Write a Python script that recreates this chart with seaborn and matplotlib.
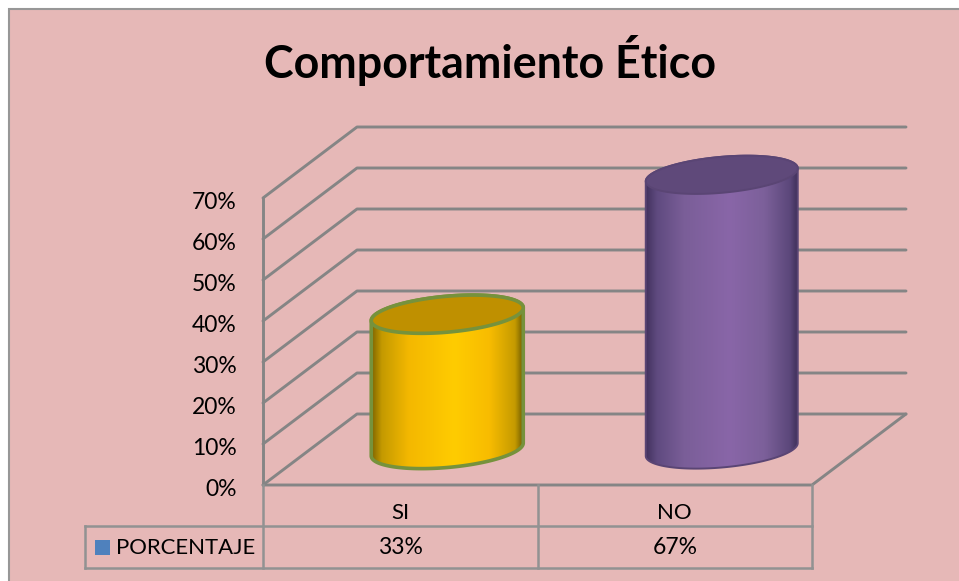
import matplotlib
matplotlib.use("Agg")
import matplotlib.pyplot as plt
import numpy as np
import seaborn as sns
from matplotlib.colors import LinearSegmentedColormap
from matplotlib.patches import PathPatch, Polygon, Rectangle
from matplotlib.path import Path
from matplotlib.transforms import ScaledTranslation

categories = ["SI", "NO"]
percentages = [33, 67]
series_name = "PORCENTAJE"
title_text = "Comportamiento Ético"
y_ticks = [0, 10, 20, 30, 40, 50, 60, 70]

ramp_stops = [0, 0.07, 0.25, 0.55, 0.78, 0.95, 1]
body_ramps = [
    ["#7d6300", "#c49a00", "#f4b800", "#ffcc00", "#f8bc00", "#c49a00", "#766000"],
    ["#43325e", "#5f4a7f", "#7a5e98", "#8966a8", "#7c609a", "#5b477a", "#3f3058"],
]
lid_colors = ["#bf9000", "#5f497a"]
rim_colors = ["#76923c", "#5a4574"]
rim_widths = [2.6, 1.4]

FONT = "Lato"
PINK = "#e6b8b7"
GRID = "#858585"
TABLE = "#929292"
W, H = 959, 581

# Front plane of the 3D box, in pixels: 0-70% spans 287 px, two categories span 549 px.
LEFT, RIGHT, FLOOR, TOP = 263, 812, 485, 198
px_x = 2 / (RIGHT - LEFT)
px_y = 70 / (FLOOR - TOP)
depth_x, depth_y = 94 * px_x, 71 * px_y

sns.set_style("white")
plt.rcParams["font.family"] = [FONT, "DejaVu Sans"]

fig = plt.figure(figsize=(W / 100, H / 100), dpi=100, facecolor="white")
fig.add_artist(Rectangle((9 / W, -0.05), 1.05, 1.05 - 9 / H, transform=fig.transFigure,
                         facecolor=PINK, edgecolor="#979797", linewidth=1.5, zorder=-1))

ax = fig.add_axes([LEFT / W, 1 - FLOOR / H, (RIGHT - LEFT) / W, (FLOOR - TOP) / H])
ax.patch.set_visible(False)
sns.barplot(x=categories, y=percentages, width=152 * px_x, ax=ax)
ax.set_xlim(-0.5, 1.5)
ax.set_ylim(0, 70)
for spine in ax.spines.values():
    spine.set_visible(False)

ax.set_yticks(y_ticks)
ax.set_yticklabels([f"{t}%" for t in y_ticks], fontsize=16.5, color="black")
ax.tick_params(axis="y", length=0, pad=19)
ax.tick_params(axis="x", length=0, pad=13, labelsize=16, labelcolor="black")
nudge = ScaledTranslation(0, -2.5 / 100, fig.dpi_scale_trans)
for lab in ax.get_yticklabels():
    lab.set_verticalalignment("center_baseline")
    lab.set_transform(lab.get_transform() + nudge)

# Walls and floor of the box
line = dict(color=GRID, linewidth=2.1, clip_on=False, zorder=1, solid_capstyle="round")
x0, x1 = ax.get_xlim()
for t in y_ticks:
    ax.plot([x0, x0 + depth_x, x1 + depth_x], [t, t + depth_y, t + depth_y], **line)
ax.plot([x0, x0], [0, 70], **line)
ax.plot([x0, x1, x1 + depth_x], [0, 0, depth_y], **line)

# Cylinders: geometry comes from the bars seaborn laid out, set back to mid depth
tilt = 0.085
t_ = np.linspace(0, 2 * np.pi, 181)
for i, bar in enumerate(list(ax.patches)):
    bar.set_visible(False)
    cx = bar.get_x() + bar.get_width() / 2 + depth_x / 2
    a = bar.get_width() / 2
    base = depth_y / 2
    top = bar.get_height() + depth_y / 2
    b = 18 * px_y
    lean = tilt * (px_y / px_x)

    def ring(cy, ts):
        ex = a * np.cos(ts)
        return np.column_stack([cx + ex, cy + b * np.sin(ts) + lean * ex])

    lower = ring(base, np.linspace(np.pi, 2 * np.pi, 91))
    upper = ring(top, np.linspace(0, np.pi, 91))
    outline = np.vstack([lower, upper])
    body = Polygon(outline, closed=True, facecolor="none", edgecolor="none", clip_on=False, zorder=3)
    ax.add_patch(body)

    cmap = LinearSegmentedColormap.from_list(f"body{i}", list(zip(ramp_stops, body_ramps[i])))
    img = ax.imshow(np.linspace(0, 1, 256)[None, :], cmap=cmap, aspect="auto",
                    extent=(cx - a, cx + a, base - 2 * b, top + 2 * b), zorder=3,
                    interpolation="bilinear")
    img.set_clip_box(fig.bbox)
    img.set_clip_path(body)

    ax.add_patch(Polygon(outline, closed=True, facecolor="none", edgecolor=rim_colors[i],
                         linewidth=rim_widths[i], clip_on=False, zorder=4, joinstyle="round"))
    ax.add_patch(PathPatch(Path(ring(top, t_), closed=True), facecolor=lid_colors[i],
                           edgecolor=rim_colors[i], linewidth=rim_widths[i], clip_on=False, zorder=5))
ax.set_xlim(x0, x1)
ax.set_ylim(0, 70)

# Data table under the plot
row1 = -41 * px_y
row2 = -83 * px_y
key_left = x0 - 178 * px_x
tbl = dict(color=TABLE, linewidth=1.8, clip_on=False, zorder=1, solid_capstyle="projecting")
ax.plot([key_left, x1], [row1, row1], **tbl)
ax.plot([key_left, x1], [row2, row2], **tbl)
ax.plot([key_left, key_left], [row1, row2], **tbl)
for x in [x0, 0.5, x1]:
    ax.plot([x, x], [0, row2], **tbl)

row_mid = (row1 + row2) / 2
text_y = row_mid + 1 * px_y
for i, v in enumerate(percentages):
    ax.text(i, text_y, f"{v}%", ha="center", va="center_baseline", fontsize=16.5, color="black")
ax.text(x0 - 147 * px_x, text_y, series_name, ha="left", va="center_baseline", fontsize=15.9, color="black")
ax.plot([x0 - 161.5 * px_x], [row_mid], marker="s", markersize=10.8, markeredgewidth=0,
        color="#4f81bd", clip_on=False, zorder=2)

fig.text(490.5 / W, 1 - 61 / H, title_text, ha="center", va="center", fontsize=32.2,
         fontweight="bold", color="black")

fig.savefig("out.png", dpi=100, facecolor=fig.get_facecolor())
